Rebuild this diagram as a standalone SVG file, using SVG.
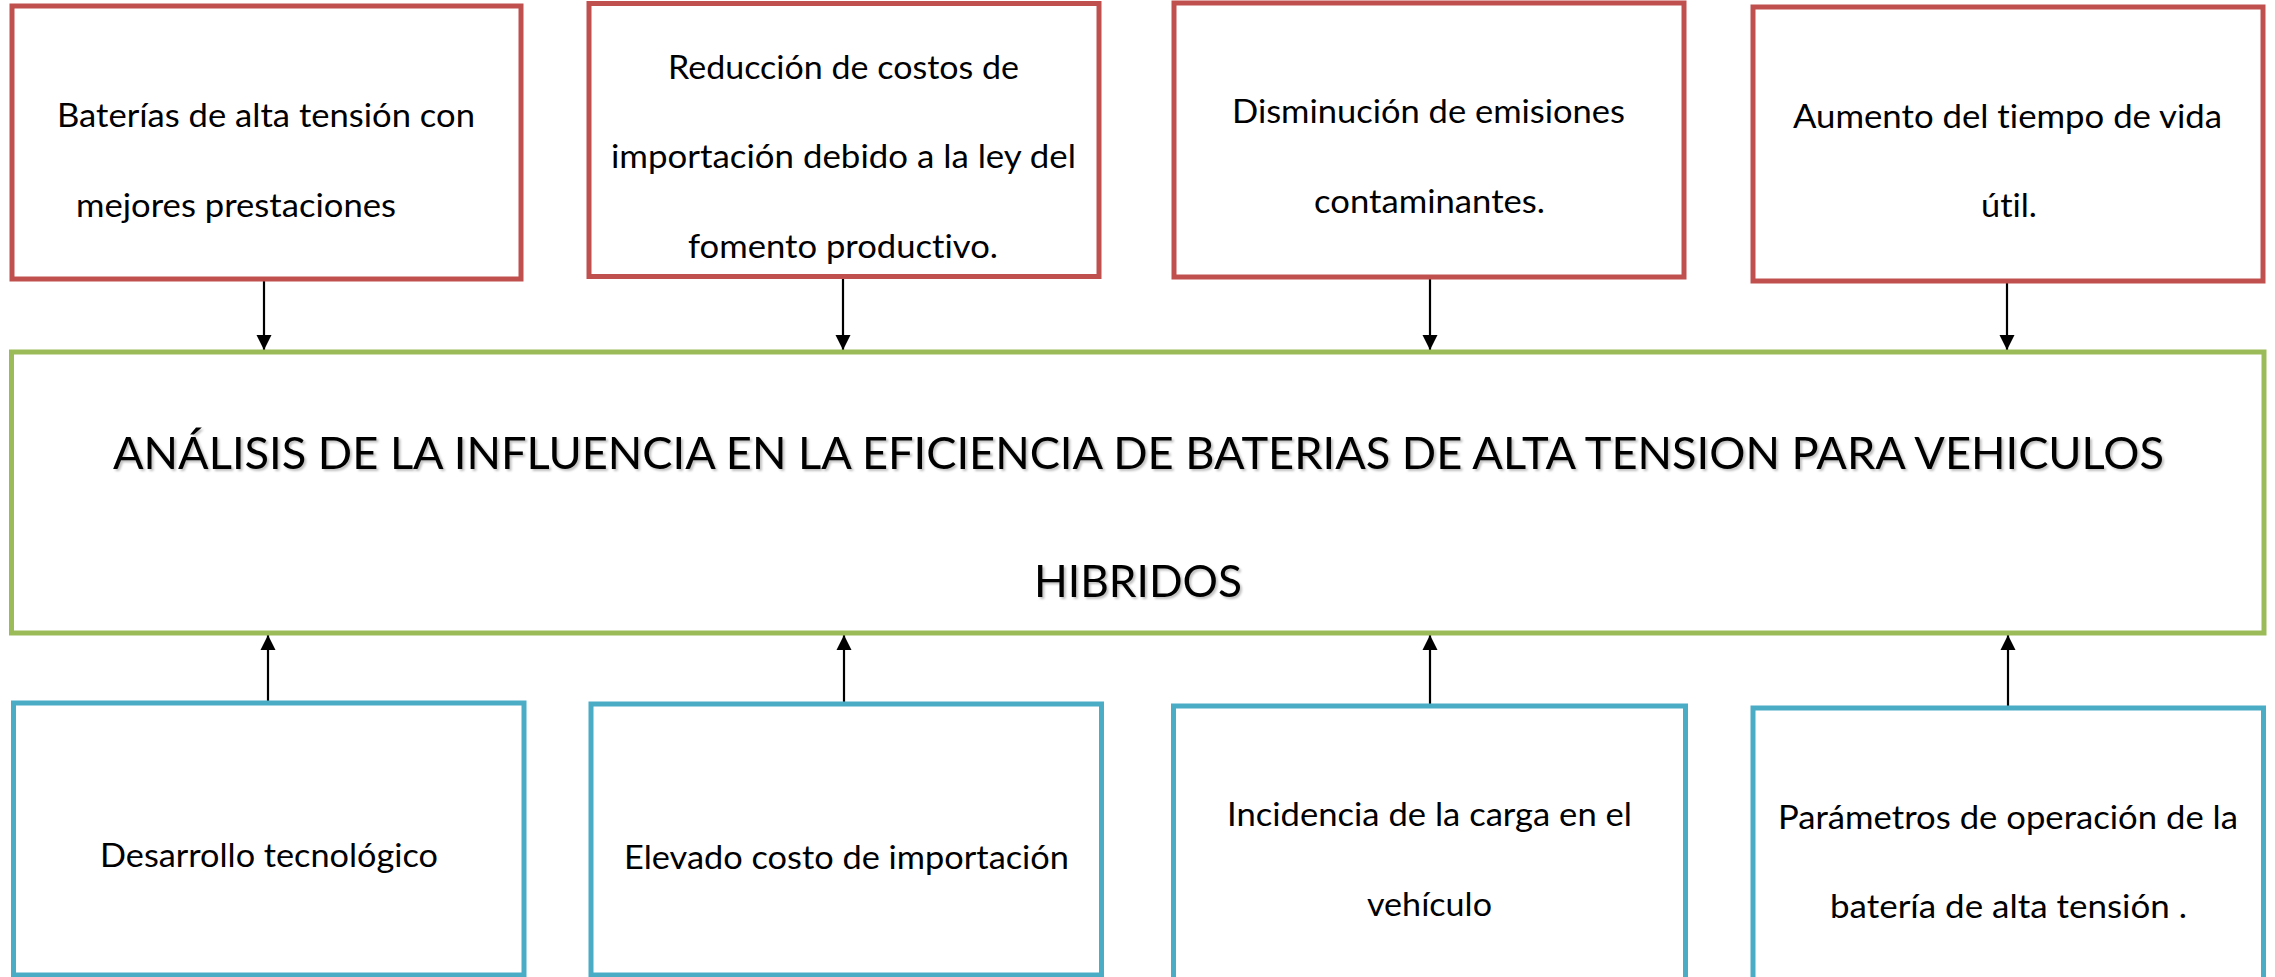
<svg xmlns="http://www.w3.org/2000/svg" width="2275" height="977" viewBox="0 0 2275 977">
<style>
.top{fill:#ffffff;stroke:#C0504D;stroke-width:5}
.main{fill:#ffffff;stroke:#9BBB59;stroke-width:5}
.bot{fill:#ffffff;stroke:#4BACC6;stroke-width:5}
.t{font-family:Lato,"Liberation Sans",sans-serif;font-size:32px;fill:#000000;font-variant-ligatures:none}
.title{font-family:Lato,"Liberation Sans",sans-serif;font-size:44px;fill:#000000;filter:url(#sh);font-variant-ligatures:none}
.conn{stroke:#000000;stroke-width:2.2;fill:none;marker-end:url(#arr)}
</style>
<defs>
<marker id="arr" markerUnits="userSpaceOnUse" markerWidth="16" markerHeight="16" viewBox="0 0 16 16" refX="15" refY="8" orient="auto">
<path d="M0,0.5 L15,8 L0,15.5 Z" fill="#000000"/>
</marker>
<filter id="sh" x="-5%" y="-20%" width="110%" height="150%">
<feDropShadow dx="2" dy="2" stdDeviation="1.2" flood-color="#000000" flood-opacity="0.25"/>
</filter>
</defs>
<rect width="2275" height="977" fill="#ffffff"/>
<g id="connectors">
<line class="conn" x1="264" y1="281" x2="264" y2="350"/>
<line class="conn" x1="843" y1="279" x2="843" y2="350"/>
<line class="conn" x1="1430" y1="279" x2="1430" y2="350"/>
<line class="conn" x1="2007" y1="283" x2="2007" y2="350"/>
<line class="conn" x1="268" y1="701" x2="268" y2="635"/>
<line class="conn" x1="844" y1="702" x2="844" y2="635"/>
<line class="conn" x1="1430" y1="704" x2="1430" y2="635"/>
<line class="conn" x1="2008" y1="706" x2="2008" y2="635"/>
</g>
<g id="node-top1">
<rect class="top" x="12" y="6" width="509" height="273"/>
<text class="t" x="57" y="127" textLength="418" lengthAdjust="spacingAndGlyphs">Baterías de alta tensión con</text>
<text class="t" x="76" y="217" textLength="320" lengthAdjust="spacingAndGlyphs">mejores prestaciones</text>
</g>
<g id="node-top2">
<rect class="top" x="589" y="3.5" width="510" height="273"/>
<text class="t" x="668" y="79" textLength="351" lengthAdjust="spacingAndGlyphs">Reducción de costos de</text>
<text class="t" x="611" y="168" textLength="465" lengthAdjust="spacingAndGlyphs">importación debido a la ley del</text>
<text class="t" x="688" y="258" textLength="310" lengthAdjust="spacingAndGlyphs">fomento productivo.</text>
</g>
<g id="node-top3">
<rect class="top" x="1174" y="3" width="510" height="274"/>
<text class="t" x="1232" y="123" textLength="393" lengthAdjust="spacingAndGlyphs">Disminución de emisiones</text>
<text class="t" x="1314" y="213" textLength="231" lengthAdjust="spacingAndGlyphs">contaminantes.</text>
</g>
<g id="node-top4">
<rect class="top" x="1753" y="7" width="510" height="274"/>
<text class="t" x="1793" y="128" textLength="429" lengthAdjust="spacingAndGlyphs">Aumento del tiempo de vida</text>
<text class="t" x="1981" y="217" textLength="56" lengthAdjust="spacingAndGlyphs">útil.</text>
</g>
<g id="node-main">
<rect class="main" x="11.5" y="352" width="2252.5" height="281"/>
<text class="title" x="113" y="469" textLength="2051" lengthAdjust="spacingAndGlyphs">ANÁLISIS DE LA INFLUENCIA EN LA EFICIENCIA DE BATERIAS DE ALTA TENSION PARA VEHICULOS</text>
<text class="title" x="1034" y="597" textLength="208" lengthAdjust="spacingAndGlyphs">HIBRIDOS</text>
</g>
<g id="node-bot1">
<rect class="bot" x="13.5" y="703" width="510.5" height="272"/>
<text class="t" x="100" y="867" textLength="338" lengthAdjust="spacingAndGlyphs">Desarrollo tecnológico</text>
</g>
<g id="node-bot2">
<rect class="bot" x="591" y="704" width="510.5" height="271"/>
<text class="t" x="624" y="869" textLength="445" lengthAdjust="spacingAndGlyphs">Elevado costo de importación</text>
</g>
<g id="node-bot3">
<rect class="bot" x="1173.5" y="706" width="512" height="280"/>
<text class="t" x="1227" y="826" textLength="405" lengthAdjust="spacingAndGlyphs">Incidencia de la carga en el</text>
<text class="t" x="1367" y="916" textLength="125" lengthAdjust="spacingAndGlyphs">vehículo</text>
</g>
<g id="node-bot4">
<rect class="bot" x="1753" y="708" width="510.5" height="280"/>
<text class="t" x="1778" y="829" textLength="460" lengthAdjust="spacingAndGlyphs">Parámetros de operación de la</text>
<text class="t" x="1830" y="918" textLength="357" lengthAdjust="spacingAndGlyphs">batería de alta tensión .</text>
</g>
</svg>
